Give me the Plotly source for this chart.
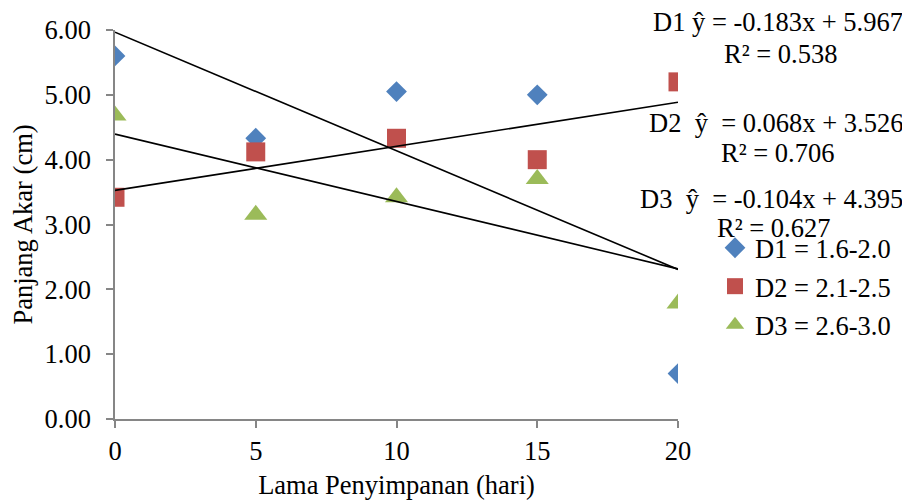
import plotly.graph_objects as go

# ---- data ----
days = [0, 5, 10, 15, 20]
d1 = [5.60, 4.33, 5.05, 5.00, 0.70]
d2 = [3.42, 4.12, 4.33, 4.00, 5.20]
d3 = [4.68, 3.15, 3.42, 3.70, 1.78]
series_names = ["D1 = 1.6-2.0", "D2 = 2.1-2.5", "D3 = 2.6-3.0"]
slopes = [-0.183, 0.068, -0.104]
intercepts = [5.967, 3.526, 4.395]
r2 = [0.538, 0.706, 0.627]
eq_labels = ["D1 ŷ = -0.183x + 5.967", "D2  ŷ  = 0.068x + 3.526", "D3  ŷ  = -0.104x + 4.395"]
yticks = [0, 1, 2, 3, 4, 5, 6]
xticks = [0, 5, 10, 15, 20]

colors = ["#4F81BD", "#C0504D", "#9BBB59"]
symbols = ["diamond", "square", "triangle-up"]
sizes = [16, 19, 20]
FONT = "Liberation Serif, Times New Roman, serif"
FS = 26.5

fig = go.Figure()
for i, ys in enumerate([d1, d2, d3]):
    fig.add_trace(go.Scatter(
        x=days, y=ys, mode="markers", name=series_names[i],
        legendgroup=f"g{i}",
        marker=dict(symbol=symbols[i], color=colors[i], size=sizes[i], line=dict(width=0)),
    ))
# trend lines from regression coefficients
for i in range(3):
    xs = [days[0], days[-1]]
    fig.add_trace(go.Scatter(
        x=xs, y=[intercepts[i] + slopes[i] * x for x in xs], mode="lines",
        line=dict(color="black", width=1.6), showlegend=False, hoverinfo="skip",
    ))

# page has an 8px body margin; figure coordinates are page coordinates minus 8
OFF = 8
W, H = 902, 492
L, R, T, B = 107, 232, 22, 81
pw, ph = W - L - R, H - T - B

def px(xp):
    return (xp - OFF - L) / pw

def py(yp):
    return (H - B - (yp - OFF)) / ph

ann = []
eq_y = [22, 123, 199]
r2_y = [54, 153, 228]
r2_x = [780, 777, 773]
for i in range(3):
    ann.append(dict(text=eq_labels[i], x=px(905), y=py(eq_y[i]), xref="paper", yref="paper",
                    xanchor="right", yanchor="middle", showarrow=False,
                    font=dict(family=FONT, size=FS, color="black")))
    ann.append(dict(text=f"R² = {r2[i]:.3f}", x=px(r2_x[i]), y=py(r2_y[i]), xref="paper", yref="paper",
                    xanchor="center", yanchor="middle", showarrow=False,
                    font=dict(family=FONT, size=FS, color="black")))

fig.update_layout(
    width=W, height=H,
    margin=dict(l=L, r=R, t=T, b=B, autoexpand=False),
    paper_bgcolor="white", plot_bgcolor="white",
    font=dict(family=FONT, size=FS, color="black"),
    showlegend=True,
    legend=dict(x=px(715), y=py(224), xanchor="left", yanchor="top",
                traceorder="grouped", tracegroupgap=1,
                font=dict(family=FONT, size=FS, color="black"),
                bgcolor="rgba(0,0,0,0)", itemwidth=30),
    annotations=ann,
    xaxis=dict(range=[0, 20], tickvals=xticks, showline=True, linecolor="#868686", linewidth=1.5,
               ticks="outside", ticklen=7, tickcolor="#868686", tickwidth=1.5, showgrid=False,
               zeroline=False, ticklabelstandoff=0, automargin=False,
               title=dict(text="Lama Penyimpanan (hari)", standoff=15,
                          font=dict(family=FONT, size=FS, color="black"))),
    yaxis=dict(range=[0, 6], tickvals=yticks, tickformat=".2f", showline=True, linecolor="#868686",
               linewidth=1.5, ticks="outside", ticklen=7, tickcolor="#868686", tickwidth=1.5,
               showgrid=False, zeroline=False, ticklabelstandoff=10, automargin=False,
               title=dict(text="Panjang Akar (cm)", standoff=6,
                          font=dict(family=FONT, size=FS, color="black"))),
)

fig.write_html("out.html")
